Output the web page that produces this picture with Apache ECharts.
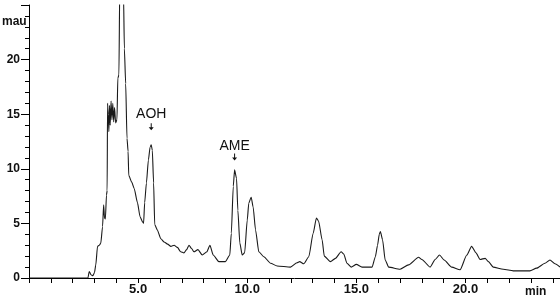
<!DOCTYPE html>
<html>
<head>
<meta charset="utf-8">
<script src="https://cdn.jsdelivr.net/npm/echarts@6/dist/echarts.min.js"></script>
<style>
  html, body { margin: 0; padding: 0; background: #fff; }
  #main { width: 560px; height: 302px; }
</style>
</head>
<body>
<div id="main"></div>
<script>
// retention time (min) and absorbance (mau)
var times = [0, 2.70, 2.76, 2.84, 2.93, 3.00, 3.06, 3.14, 3.22, 3.29, 3.37, 3.42, 3.46, 3.50, 3.55, 3.58,
  3.60, 3.63, 3.66, 3.69, 3.72, 3.76, 3.80, 3.84, 3.88, 3.92, 3.97, 4.03, 4.07, 4.12, 4.16, 4.25, 4.33,
  4.37, 4.43, 4.49, 4.54, 4.57, 4.70, 4.82, 4.97, 5.09, 5.20, 5.25, 5.30, 5.38, 5.47, 5.55, 5.60, 5.65,
  5.71, 5.76, 5.88, 6.04, 6.19, 6.35, 6.50, 6.65, 6.80, 6.95, 7.10, 7.22, 7.33, 7.45, 7.56, 7.74, 7.94,
  8.15, 8.29, 8.44, 8.70, 9.00, 9.20, 9.27, 9.36, 9.42, 9.51, 9.57, 9.66, 9.77, 9.88, 10.00, 10.07,
  10.18, 10.27, 10.38, 10.53, 10.76, 11.07, 11.37, 11.98, 12.28, 12.40, 12.59, 12.82, 13.02, 13.17,
  13.27, 13.43, 13.53, 13.81, 14.04, 14.30, 14.42, 14.57, 14.76, 15.00, 15.26, 15.72, 15.87, 15.97,
  16.05, 16.10, 16.20, 16.32, 16.48, 17.00, 17.39, 17.85, 18.00, 18.38, 18.61, 18.81, 19.02, 19.37,
  19.75, 20.06, 20.28, 20.48, 20.67, 20.90, 21.05, 21.27, 21.73, 22.19, 22.95, 23.26, 23.64, 23.87,
  24.10, 24.33];
var mau = [0, 0, 0.6, 0.3, 0.2, 0.5, 1.2, 2.9, 3.0, 3.2, 4.7, 6.7, 5.5, 5.4, 7.6, 8.0,
  16.0, 15.0, 13.4, 15.8, 14.0, 16.2, 14.5, 16.0, 14.3, 15.6, 14.2, 14.5, 18.3, 18.6, 27, 28, 26,
  21.0, 17.8, 12.8, 11.6, 9.4, 8.8, 8.2, 6.9, 5.6, 5.15, 5.0, 6.9, 8.7, 10.8, 12.0, 12.2, 11.7,
  8.7, 4.9, 4.4, 3.6, 3.3, 3.1, 2.9, 3.0, 2.8, 2.4, 2.3, 2.6, 3.0, 2.7, 2.4, 2.6, 2.1,
  2.4, 3.0, 2.1, 1.5, 1.5, 2.1, 4.1, 8.4, 9.9, 9.1, 6.2, 3.2, 2.1, 2.3, 5.3, 6.85,
  7.4, 6.5, 4.4, 2.4, 1.95, 1.35, 1.1, 1.0, 1.4, 1.5, 1.3, 1.95, 4.1, 5.5,
  5.2, 3.5, 2.0, 1.5, 1.8, 2.4, 2.2, 1.35, 1.0, 1.25, 1.0, 1.0, 1.95, 3.0,
  4.0, 4.25, 3.5, 1.65, 1.0, 0.8, 1.2, 1.9, 1.7, 1.0, 1.7, 2.1, 1.65, 1.0,
  0.75, 2.1, 2.9, 2.3, 1.7, 1.8, 1.5, 1.0, 0.8, 0.65, 0.65, 0.9, 1.35, 1.65,
  1.3, 1.0];

// labelled peaks
var peakNames = ["AOH", "AME"];
var peakTimes = [5.60, 9.42];
var peakValues = [12.2, 9.9];

var xLabelEvery = 5;
var yMax = 25;

var chart = echarts.init(document.getElementById("main"));

var trace = times.map(function (t, i) { return [t, mau[i]]; });

var arrowOffsets = [-18, -13];
var labelGaps = [2, 0];
var peakMarks = peakNames.map(function (n, i) {
  return {
    name: n,
    coord: [peakTimes[i], peakValues[i]],
    symbolOffset: [0, arrowOffsets[i]],
    label: { distance: labelGaps[i] }
  };
});

var option = {
  animation: false,
  grid: { left: 29, top: 5, right: 0, bottom: 24 },
  xAxis: {
    type: "value",
    min: 0,
    max: 24.33,
    interval: 1,
    axisLine: { lineStyle: { color: "#000", width: 1 } },
    axisTick: { length: 5, lineStyle: { color: "#000" } },
    axisLabel: {
      margin: 5,
      showMaxLabel: false,
      color: "#111",
      fontFamily: "Liberation Sans",
      fontWeight: "bold",
      fontSize: 13,
      formatter: function (v) {
        return (v > 0 && Math.abs(v % xLabelEvery) < 1e-6) ? v.toFixed(1) : "";
      }
    },
    splitLine: { show: false }
  },
  yAxis: {
    type: "value",
    min: 0,
    max: yMax,
    interval: 5,
    axisLine: { show: true, lineStyle: { color: "#000", width: 1 } },
    axisTick: { show: true, length: 8, lineStyle: { color: "#000" } },
    minorTick: { show: true, splitNumber: 5, length: 4, lineStyle: { color: "#000" } },
    axisLabel: {
      margin: 9,
      color: "#111",
      fontFamily: "Liberation Sans",
      fontWeight: "bold",
      fontSize: 12,
      formatter: function (v) { return v >= yMax ? "" : String(v); }
    },
    splitLine: { show: false }
  },
  graphic: [
    { type: "text", left: 2, top: 16, style: { text: "mau", fill: "#111", font: "bold 12px 'Liberation Sans'" } },
    { type: "text", left: 525, top: 286, style: { text: "min", fill: "#111", font: "bold 12px 'Liberation Sans'" } }
  ],
  series: [
    {
      type: "line",
      data: trace,
      showSymbol: false,
      smooth: 0.2,
      smoothMonotone: "x",
      clip: true,
      lineStyle: { color: "#1a1a1a", width: 1.1 },
      markPoint: {
        symbol: "path://M2,0 L3,0 L3,4 L5,4 L2.5,7 L0,4 L2,4 Z",
        symbolSize: [5, 7],
        itemStyle: { color: "#111" },
        label: {
          show: true,
          position: "top",
          formatter: "{b}",
          color: "#111",
          fontFamily: "Liberation Sans",
          fontSize: 14
        },
        data: peakMarks
      }
    }
  ]
};

chart.setOption(option);
</script>
</body>
</html>
